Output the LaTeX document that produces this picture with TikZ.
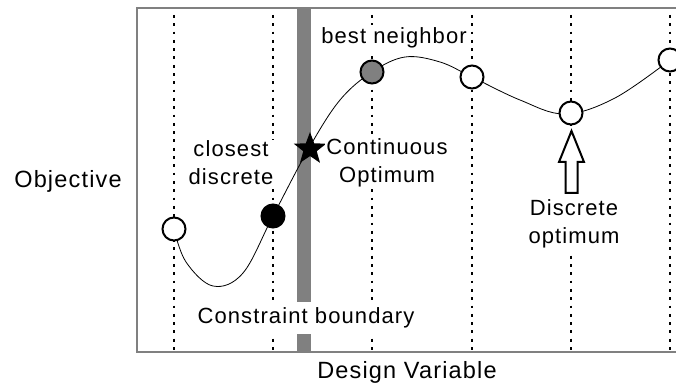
\documentclass[tikz,border=0pt]{standalone}
\usepackage{fontspec}
\setmainfont{Liberation Sans}[LetterSpace=5]
\newfontfamily\axfont{Liberation Sans}[LetterSpace=5]
\usetikzlibrary{shapes.geometric}
\tikzset{
  dotline/.style={line width=2.8pt, dash pattern=on 2.8pt off 5.5pt},
  dpt/.style={circle, draw=black, line width=2pt, minimum size=23pt, inner sep=0pt, fill=white},
  lbl/.style={fill=white, inner sep=3pt, font=\fontsize{22}{28}\selectfont, align=center},
  axlbl/.style={inner sep=0pt, font=\axfont\fontsize{23.5}{27}\selectfont},
  curve/.style={line width=0.8pt},
}
\begin{document}
\begin{tikzpicture}[x=1pt,y=-1pt]
\clip (0,0) rectangle (676,387);
\fill[white] (0,0) rectangle (676,387);
% frame
\draw[gray, line width=1.5pt] (137,8) rectangle (700,352);
% dotted verticals
\foreach \x in {174,273,372,472,571,670} {
  \draw[dotline] (\x,15) -- (\x,351);
}
% constraint band
\fill[gray] (297,8.8) rectangle (311,351.2);
% curve
\draw[curve] plot[smooth, tension=0.6] coordinates {
 (174,229) (186,262) (213,286) (243,273) (273,216) (309,148) (340,100) (372,72)
 (405,57) (440,62) (472,77) (520,100) (565,114) (615,98) (670,60)};
% points
\node[dpt] (p1) at (174,229) {};
\node[dpt, fill=black] (p2) at (273,216) {};
\node[dpt, fill=gray] (p3) at (372,72) {};
\node[dpt] (p4) at (472,77) {};
\node[dpt] (p5) at (571,113) {};
\node[dpt] (p6) at (670,60) {};
\node[star, star points=5, star point ratio=2.4, fill=black, minimum size=34pt, inner sep=0pt] (st) at (310,149) {};
% arrow
\draw[line width=2pt, fill=white, line join=miter]
  (565.5,193) -- (565.5,162) -- (559,162) -- (571.5,131) -- (584,162) -- (577.5,162) -- (577.5,193) -- cycle;
% labels
\node[lbl] (bn) at (394,38) {best neighbor};
\node[lbl, inner sep=1pt] (cd) at (231,163) {closest\\discrete};
\node[lbl, inner sep=1pt] (co) at (387,163) {Continuous\\Optimum};
\node[lbl] (do) at (574,224) {Discrete\\optimum};
\node[lbl, inner sep=6pt] (cb) at (306,318) {Constraint boundary};
\node[axlbl] (obj) at (68,181) {Objective};
\node[axlbl] (dv) at (407,372) {Design Variable};
\end{tikzpicture}
\end{document}
